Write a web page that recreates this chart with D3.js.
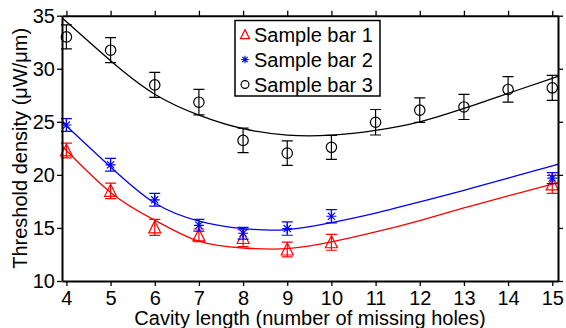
<!DOCTYPE html>
<html><head><meta charset="utf-8">
<script src="https://cdn.jsdelivr.net/npm/d3@7/dist/d3.min.js"></script>
<style>
body{margin:0;background:#fff;}
text{font-family:"Liberation Sans",Arial,Helvetica,sans-serif;}
</style>
</head><body>
<svg id="chart" width="566" height="328"></svg>
<script>
// ---- data ----
const xTicks = [4,5,6,7,8,9,10,11,12,13,14,15];
const yTicks = [10,15,20,25,30,35];
const seriesNames = ["Sample bar 1","Sample bar 2","Sample bar 3"];
const seriesColors = ["#ff0000","#0000ff","#000000"];

const bar1X = [4,5,6,7,8,9,10,15];
const bar1Y = [22.3,18.5,15.05,14.3,14.05,12.97,13.65,19.1];
const bar1Err = [0.7,0.73,0.75,0.6,0.8,0.7,0.75,0.85];

const bar2X = [4,5,6,7,8,9,10,15];
const bar2Y = [24.7,20.95,17.65,15.25,14.5,14.94,16.1,19.7];
const bar2Err = [0.6,0.6,0.6,0.55,0.55,0.63,0.63,0.52];

const bar3X = [4,5,6,7,8,9,10,11,12,13,14,15];
const bar3Y = [33.0,31.75,28.48,26.85,23.25,22.05,22.6,24.96,26.1,26.4,28.05,28.2];
const bar3Err = [1.13,1.18,1.18,1.2,1.15,1.15,1.13,1.2,1.16,1.18,1.2,1.18];

// fitted curves
const fitX  = [3.9,4,5,6,7,8,9,10,11,12,13,14,15,15.13];
const fit1Y = [22.6,22.3,18.34,15.73,13.75,13.11,13.05,13.68,14.62,15.7,16.88,18.02,19.12,19.27];
const fit2Y = [25.0,24.6,20.75,17.35,15.65,14.94,14.85,15.5,16.4,17.45,18.55,19.7,20.85,21.0];
const fit3Y = [34.75,34.43,30.75,27.6,25.63,24.35,23.75,23.75,24.2,25.0,26.26,27.68,29.1,29.25];

const xLabel = "Cavity length (number of missing holes)";
const yLabel = "Threshold density (\u03bcW/\u03bcm)";

// ---- layout ----
const L = 62, R = 558, T = 15.7, B = 281;
const svg = d3.select("#chart");
const x = d3.scaleLinear().domain([3.9,15.13]).range([L,R]);
const y = d3.scaleLinear().domain([10,35]).range([B,T]);

const series = [
  {xs:bar1X, ys:bar1Y, es:bar1Err, fit:fit1Y, color:seriesColors[0], marker:"tri"},
  {xs:bar2X, ys:bar2Y, es:bar2Err, fit:fit2Y, color:seriesColors[1], marker:"star"},
  {xs:bar3X, ys:bar3Y, es:bar3Err, fit:fit3Y, color:seriesColors[2], marker:"circ"}
];

svg.append("defs").append("clipPath").attr("id","clip")
  .append("rect").attr("x",L).attr("y",T).attr("width",R-L).attr("height",B-T);

function marker(g, type, color, s){
  if(type==="tri"){
    g.append("path").attr("d",`M0,${-6.5*s}L${6*s},${5.5*s}L${-6*s},${5.5*s}Z`)
      .attr("fill","none").attr("stroke",color).attr("stroke-width",1.2);
  } else if(type==="circ"){
    g.append("circle").attr("r",5.2*s).attr("fill","none").attr("stroke",color).attr("stroke-width",1.2);
  } else {
    const a=5*s, d=3.6*s;
    g.append("path").attr("d",`M0,${-a}V${a}M${-a},0H${a}M${-d},${-d}L${d},${d}M${-d},${d}L${d},${-d}`)
      .attr("fill","none").attr("stroke",color).attr("stroke-width",1.2);
  }
}

const plot = svg.append("g");
series.forEach(s=>{
  const pts = fitX.map((v,i)=>[v,s.fit[i]]);
  plot.append("path").attr("clip-path","url(#clip)")
    .attr("d", d3.line().x(d=>x(d[0])).y(d=>y(d[1])).curve(d3.curveNatural)(pts))
    .attr("fill","none").attr("stroke",s.color).attr("stroke-width",1.3);
  s.xs.forEach((xv,i)=>{
    const cx=x(xv), y1=y(s.ys[i]+s.es[i]), y2=y(s.ys[i]-s.es[i]), w=5.5;
    plot.append("path").attr("d",`M${cx},${y1}V${y2}M${cx-w},${y1}H${cx+w}M${cx-w},${y2}H${cx+w}`)
      .attr("fill","none").attr("stroke",s.color).attr("stroke-width",1.2);
    const g = plot.append("g").attr("transform",`translate(${cx},${y(s.ys[i])})`);
    marker(g, s.marker, s.color, 1);
  });
});

// ---- axes ----
function styleAxis(g){
  g.select(".domain").attr("stroke","#000").attr("stroke-width",2);
  g.selectAll(".tick line").attr("stroke","#000").attr("stroke-width",1.3);
  g.selectAll(".tick text").attr("fill","#000").style("font-size","20px")
    .style("font-family",'"Liberation Sans",Arial,sans-serif');
}
svg.append("g").attr("transform",`translate(0,${B})`)
  .call(d3.axisBottom(x).tickValues(xTicks).tickSize(5).tickSizeOuter(0).tickPadding(5).tickFormat(d3.format("d")))
  .call(styleAxis);
svg.append("g").attr("transform",`translate(0,${T})`)
  .call(d3.axisTop(x).tickValues(xTicks).tickSize(5).tickSizeOuter(0).tickFormat(""))
  .call(styleAxis);
svg.append("g").attr("transform",`translate(${L},0)`)
  .call(d3.axisLeft(y).tickValues(yTicks).tickSize(5).tickSizeOuter(0).tickPadding(2).tickFormat(d3.format("d")))
  .call(styleAxis);
svg.append("g").attr("transform",`translate(${R},0)`)
  .call(d3.axisRight(y).tickValues(yTicks).tickSize(5).tickSizeOuter(0).tickFormat(""))
  .call(styleAxis);

// axis labels
svg.append("text").attr("x",(L+R)/2).attr("y",325).attr("text-anchor","middle")
  .style("font-size","20px").text(xLabel);
svg.append("text").attr("transform",`translate(27,${(T+B)/2}) rotate(-90)`).attr("text-anchor","middle")
  .style("font-size","20px").text(yLabel);

// ---- legend ----
const lg = svg.append("g");
lg.append("rect").attr("x",235).attr("y",20.5).attr("width",145).attr("height",75.5)
  .attr("fill","#fff").attr("stroke","#000").attr("stroke-width",1.5);
seriesNames.forEach((n,i)=>{
  const cy = 34.5 + i*25;
  const g = lg.append("g").attr("transform",`translate(245,${cy})`);
  marker(g, series[i].marker, series[i].color, 0.75);
  lg.append("text").attr("x",254).attr("y",cy).attr("dy","0.35em")
    .style("font-size","20px").attr("fill","#000").text(n);
});
</script>
</body></html>
